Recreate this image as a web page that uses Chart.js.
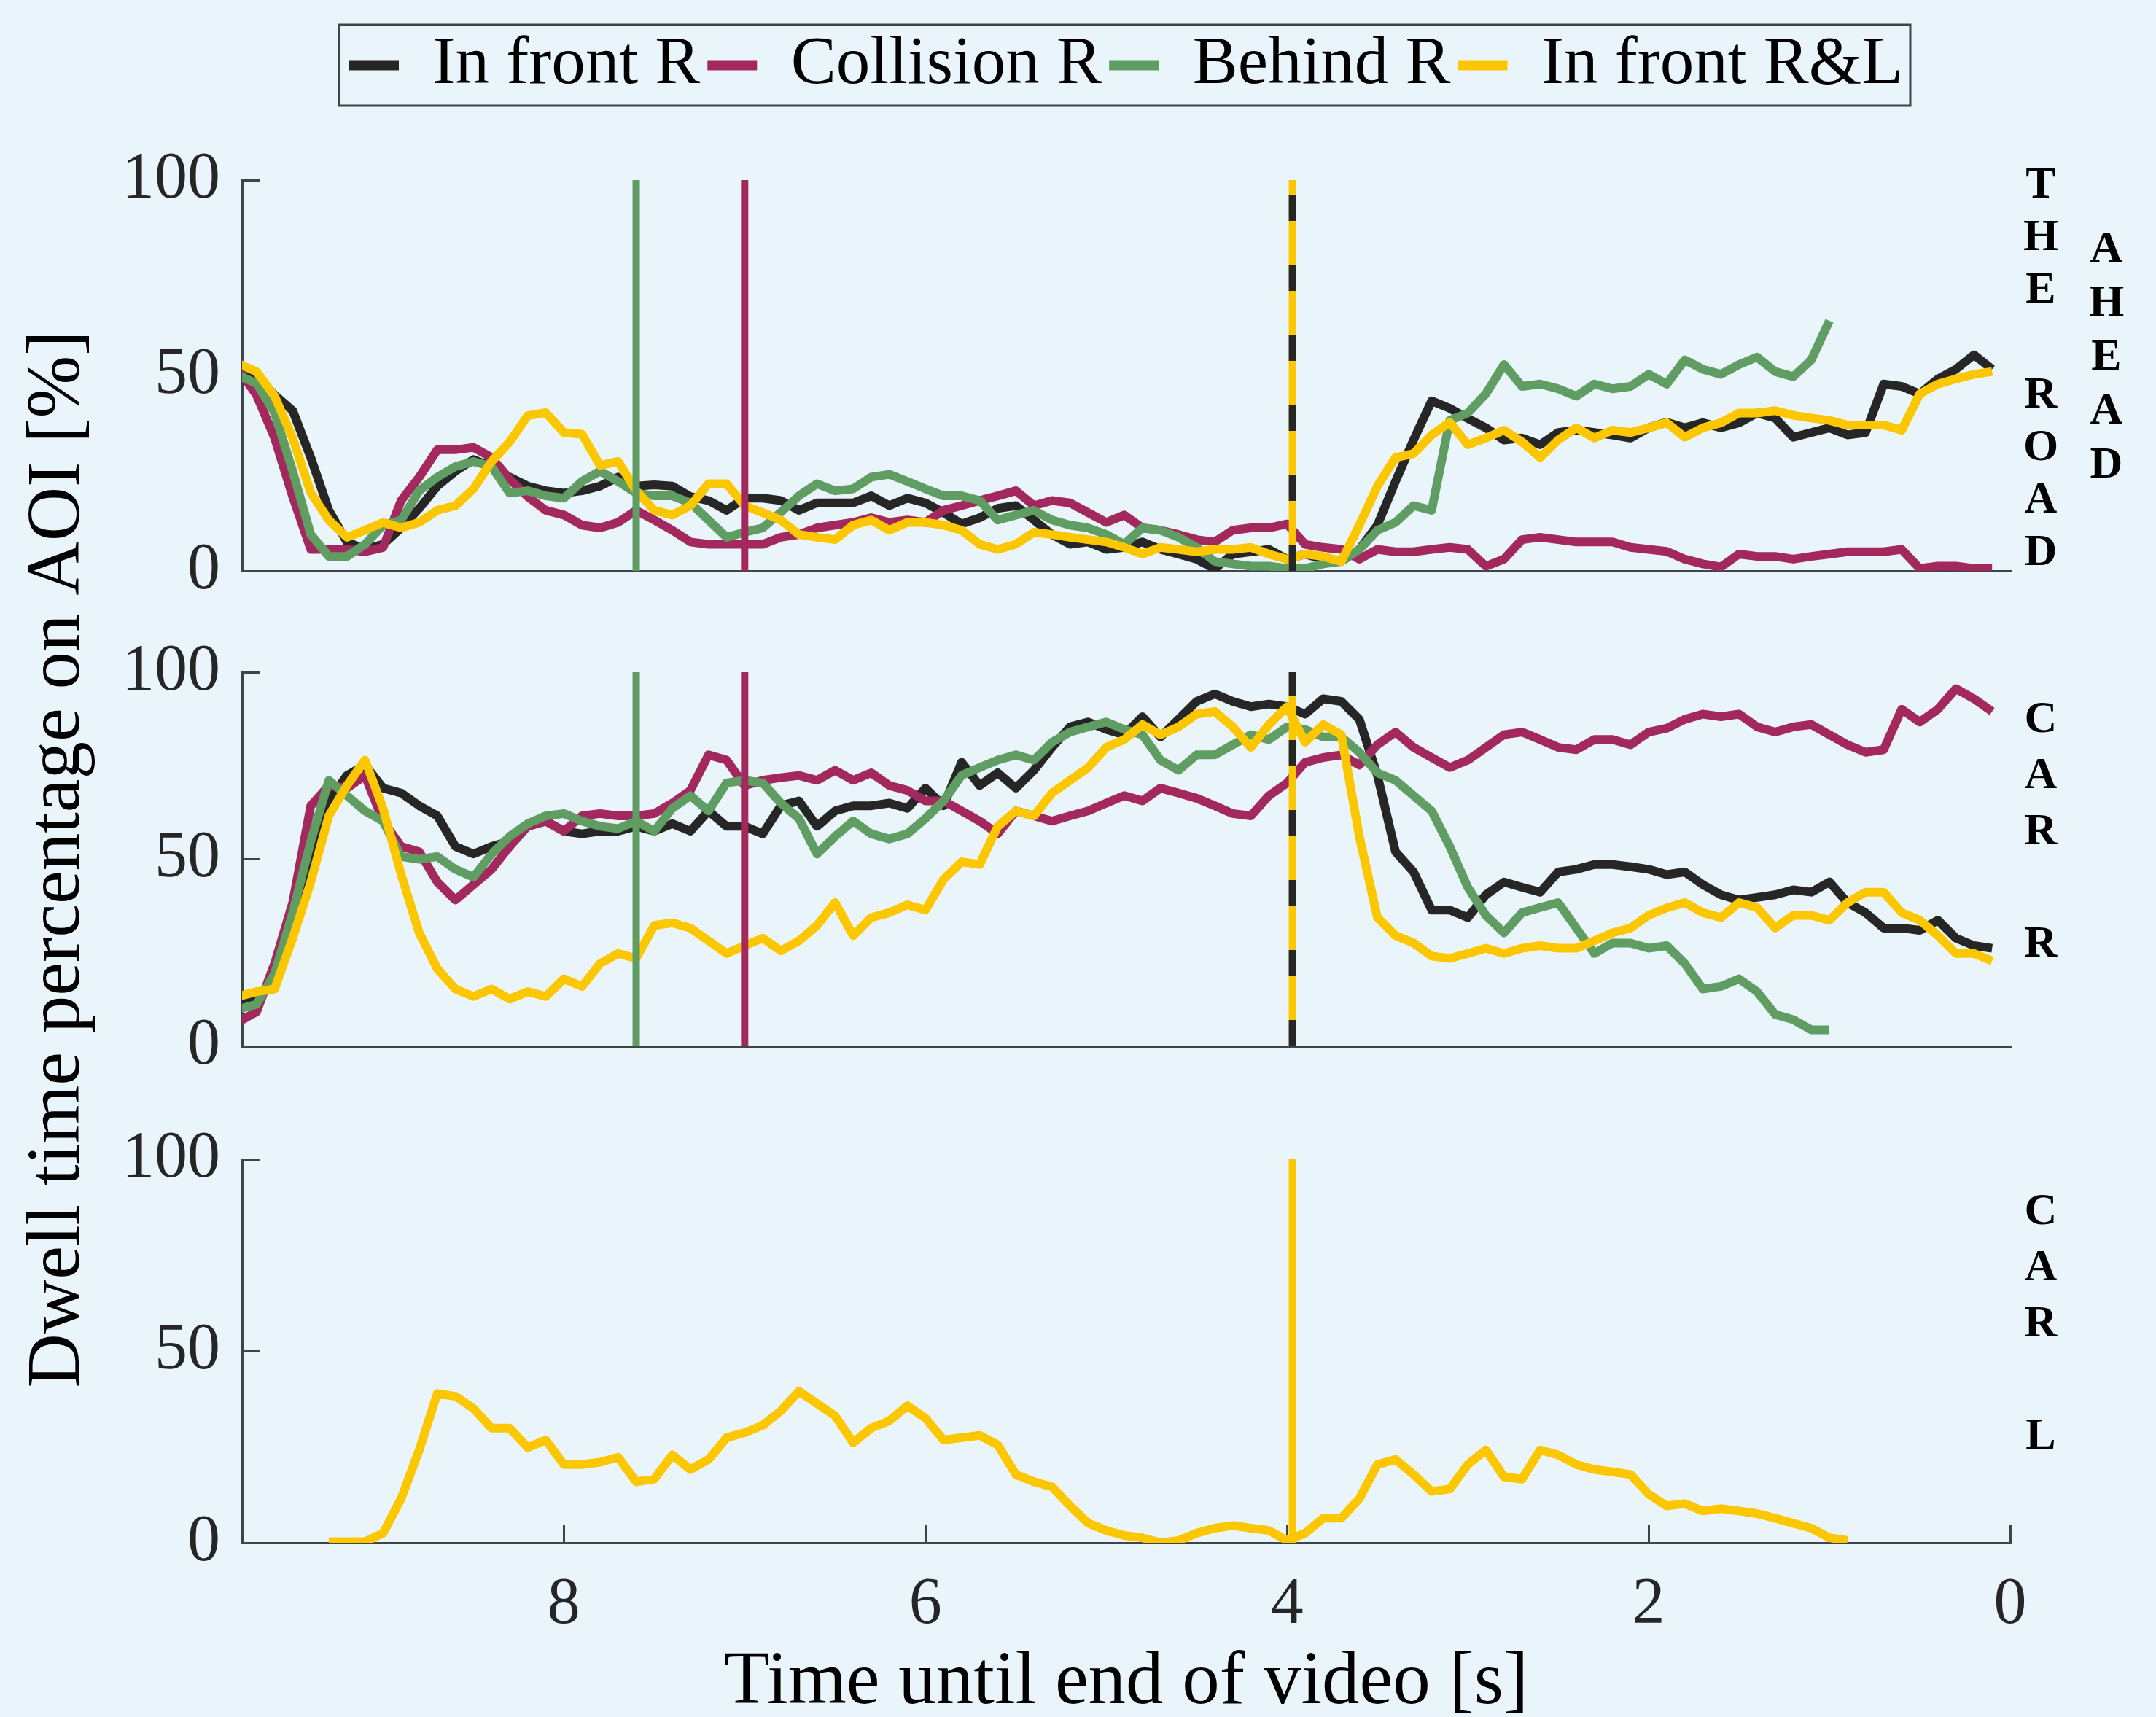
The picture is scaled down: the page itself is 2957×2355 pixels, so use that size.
<!DOCTYPE html>
<html>
<head>
<meta charset="utf-8">
<title>Dwell time percentage on AOI</title>
<script src="https://cdn.jsdelivr.net/npm/chart.js@4.4.1/dist/chart.umd.min.js"></script>
<style>
  html, body { margin: 0; padding: 0; background: #eaf4fb; }
  #wrap { position: relative; width: 2957px; height: 2355px; }
  canvas { position: absolute; left: 0; top: 0; }
</style>
</head>
<body>
<div id="wrap">
  <canvas id="road" width="2957" height="2355"></canvas>
  <canvas id="carR" width="2957" height="2355"></canvas>
  <canvas id="carL" width="2957" height="2355"></canvas>
</div>
<script>
// time until end of video [s], one sample every 0.1 s
var time = [
  9.8, 9.7, 9.6, 9.5, 9.4, 9.3, 9.2, 9.1, 9.0, 8.9,
  8.8, 8.7, 8.6, 8.5, 8.4, 8.3, 8.2, 8.1, 8.0, 7.9,
  7.8, 7.7, 7.6, 7.5, 7.4, 7.3, 7.2, 7.1, 7.0, 6.9,
  6.8, 6.7, 6.6, 6.5, 6.4, 6.3, 6.2, 6.1, 6.0, 5.9,
  5.8, 5.7, 5.6, 5.5, 5.4, 5.3, 5.2, 5.1, 5.0, 4.9,
  4.8, 4.7, 4.6, 4.5, 4.4, 4.3, 4.2, 4.1, 4.0, 3.9,
  3.8, 3.7, 3.6, 3.5, 3.4, 3.3, 3.2, 3.1, 3.0, 2.9,
  2.8, 2.7, 2.6, 2.5, 2.4, 2.3, 2.2, 2.1, 2.0, 1.9,
  1.8, 1.7, 1.6, 1.5, 1.4, 1.3, 1.2, 1.1, 1.0, 0.9,
  0.8, 0.7, 0.6, 0.5, 0.4, 0.3, 0.2, 0.1
];

var seriesNames = ["In front R", "Collision R", "Behind R", "In front R&L"];
// moment each scenario's car shows up (vertical lines)
var onsetTime = [3.97, 7.0, 7.6, 3.97];
var panelLabels = [["THE ROAD", "AHEAD"], ["CAR R"], ["CAR L"]];
var xTicks = [8, 6, 4, 2, 0];
var yTicks = [0, 50, 100];

// AOI: the road ahead
var roadFrontR = [
  52, 50, 45, 41, 29, 15.5, 7.4, 5.5, 6.8, 11,
  16, 21.7, 25.5, 28.5, 26.7, 24, 21.7, 20.5, 19.9, 20.5,
  21.7, 24, 21.7, 22, 21.7, 19, 18, 15.5, 18.6, 18.6,
  18, 15.5, 17.4, 17.4, 17.4, 19.2, 16.7, 18.6, 17.4, 14.9,
  12, 13.6, 16, 16.7, 13, 9.3, 6.8, 7.4, 5.5, 6,
  7.4, 5.5, 4.3, 3, 0.5, 4.3, 4.9, 5.5, 3, 4.3,
  3, 2.4, 5.5, 11.7, 22.9, 33.5, 43.5, 41.6, 39, 36.6,
  33.5, 34, 32.3, 35.4, 36, 35.4, 34.8, 34, 36.6, 38,
  36.6, 37.9, 36.6, 37.9, 40.4, 39.1, 34.2, 35.4, 36.6, 34.8,
  35.4, 47.8, 47.2, 45.3, 49.1, 51.6, 55.3, 51.6
];
var roadCollisionR = [
  51.5, 45, 34, 19, 5.5, 5.5, 5.5, 4.9, 6, 18,
  24, 31, 31, 31.6, 29, 23.5, 19, 15.5, 14.3, 11.7,
  11, 12.4, 15.5, 13, 10.4, 7.4, 6.8, 6.8, 6.8, 6.8,
  8.6, 9.3, 11, 11.7, 12.4, 13.6, 12.4, 13, 12.4, 15.5,
  16.7, 18, 19.2, 20.5, 16.7, 18, 17.4, 14.9, 12.4, 14.3,
  11, 10.4, 9.3, 8, 7.4, 10.4, 11, 11, 12, 6.8,
  6, 5.5, 3, 5.5, 4.9, 4.9, 5.5, 6, 5.5, 1.2,
  3, 8, 8.6, 8, 7.4, 7.4, 7.4, 6, 5.5, 5,
  3, 1.8, 1, 4.3, 3.7, 3.7, 3, 3.7, 4.3, 4.9,
  4.9, 4.9, 5.5, 0.6, 1.2, 1.2, 0.6, 0.6
];
var roadBehindR = [
  50, 48, 40.4, 25.5, 9.3, 3.7, 3.7, 6.8, 11.7, 13,
  20.5, 24, 26.7, 28, 26.7, 19.9, 20.5, 19.2, 18.6, 22.9,
  25.5, 22.9, 19.9, 19.2, 19.2, 17.4, 13, 8.6, 9.9, 11,
  15, 19.2, 22.3, 20.5, 21, 24, 24.7, 22.9, 21, 19.2,
  19.2, 18, 13, 14.3, 15.5, 13, 11.7, 11, 9.3, 6.8,
  11, 10.4, 8.6, 6, 2.4, 1.8, 1.2, 1.2, 0.6, 0.6,
  1.8, 2.4, 5.5, 10.4, 12.4, 16.7, 15.5, 38.5, 40.4, 45.3,
  52.8, 47.2, 47.8, 46.6, 44.7, 47.8, 46.6, 47.2, 50.3, 47.8,
  54, 51.6, 50.3, 52.8, 54.7, 51, 49.7, 54, 64, null,
  null, null, null, null, null, null, null, null
];
var roadFrontRL = [
  53, 51, 44.7, 34, 20, 13, 8.6, 10.4, 12.4, 11,
  12.4, 15.5, 16.7, 21, 28, 33, 39.7, 40.5, 35.4, 35,
  27, 28, 20.5, 15.5, 14.3, 16.7, 22.3, 22.3, 16.7, 14.9,
  13, 9.3, 8.6, 8, 11.7, 13, 10.4, 12.4, 12.4, 11.7,
  10.4, 6.8, 5.5, 6.8, 9.9, 9.3, 8.6, 8, 7.4, 6,
  4.3, 6, 5.5, 4.9, 5.5, 5.5, 6, 4.3, 3, 4.3,
  3.7, 2.4, 11.7, 21.7, 29, 30, 34.8, 38, 32.3, 34,
  36, 33, 29, 33.5, 36.6, 34, 36, 35.4, 36.6, 37.9,
  34.2, 36.6, 37.9, 40.4, 40.4, 41, 39.8, 39.1, 38.5, 37.3,
  37.3, 37.3, 36, 45.3, 47.8, 49.1, 50.3, 51
];

// AOI: car on the right
var carRFrontR = [
  11.2, 12.6, 17.3, 32.3, 50.7, 65.6, 72.4, 75.2, 69, 67.7,
  64.3, 61.6, 53.4, 51.4, 53.4, 54.8, 58.8, 60.2, 57.5, 56.8,
  57.5, 57.5, 58.8, 57.5, 59.5, 57.5, 62.9, 58.8, 58.8, 56.8,
  64.3, 65.6, 58.8, 62.9, 64.3, 64.3, 65, 63.6, 69, 64.3,
  75.9, 69.7, 73.1, 69, 73.8, 79.9, 85.4, 86.7, 84.7, 83.3,
  88.1, 82.7, 87.4, 92.2, 94.2, 92.2, 90.8, 91.5, 90.8, 88.8,
  92.9, 92.2, 87.4, 72.4, 52, 46.6, 36.4, 36.4, 34.4, 40.5,
  43.9, 42.5, 41.2, 46.6, 47.3, 48.6, 48.6, 48, 47.3, 45.9,
  46.6, 43.2, 40.5, 39.1, 39.8, 40.5, 41.8, 41.2, 43.9, 38.4,
  35.7, 31.6, 31.6, 31, 33.7, 28.9, 26.9, 26.2
];
var carRCollisionR = [
  6.5, 9.2, 22.1, 38.4, 64.3, 69.7, 69, 72.4, 60.2, 53.4,
  52, 43.9, 39.1, 43.2, 47.3, 53.4, 58.8, 60.2, 57.5, 61.6,
  62.2, 61.6, 61.6, 62.2, 65, 68.4, 77.9, 76.5, 69.7, 71.1,
  71.8, 72.4, 71.1, 73.8, 71.1, 73.1, 69.7, 68.4, 65.6, 65.6,
  62.9, 60.2, 56.8, 62.9, 61.6, 60.2, 61.6, 62.9, 65, 67,
  65.6, 69, 67.7, 66.3, 64.3, 62.2, 61.6, 67, 70.4, 75.9,
  77.2, 77.9, 75.2, 80.6, 84, 79.9, 77.2, 74.5, 76.5, 79.9,
  83.3, 84, 82, 79.9, 79.3, 82, 82, 80.6, 84, 85,
  87.4, 88.8, 88.1, 88.8, 85.4, 84, 85.4, 86, 83.3, 80.6,
  78.6, 79.3, 90.1, 86.7, 90.1, 95.6, 92.9, 89.5
];
var carRBehindR = [
  9.9, 11.2, 19.4, 35.7, 54.8, 71.1, 67, 62.9, 60.2, 50.7,
  50, 50.7, 47.3, 45.2, 51.4, 56.1, 59.5, 61.6, 62.2, 60.2,
  58.8, 58.2, 60.2, 57.5, 63.6, 67, 62.9, 70.4, 71.1, 70.4,
  65, 60.9, 51.4, 56.1, 60.2, 56.8, 55.4, 56.8, 60.9, 65.6,
  72.4, 74.5, 76.5, 77.9, 76.5, 81.3, 84, 85.4, 86.7, 84.7,
  83.3, 76.5, 73.8, 77.9, 77.9, 80.6, 83.3, 82, 85.4, 84.7,
  82.7, 82.7, 78.6, 73.1, 71.1, 67, 62.9, 53.4, 42.5, 35,
  30.3, 35.7, 37.1, 38.4, 31.6, 24.8, 27.6, 27.6, 26.2, 26.9,
  22.1, 15.3, 16, 18, 14.6, 8.5, 7.1, 4.4, 4.4, null,
  null, null, null, null, null, null, null, null
];
var carRFrontRL = [
  13.3, 14.6, 15.3, 28.9, 43.9, 61.6, 69.7, 76.5, 63.6, 45.9,
  30.3, 20.7, 15.3, 13.3, 15.3, 12.6, 14.6, 13.3, 18, 16,
  22.1, 24.8, 23.5, 32.3, 33, 31.6, 28.2, 24.8, 26.9, 28.9,
  25.5, 28.2, 32.3, 38.4, 29.6, 34.4, 35.7, 37.8, 36.4, 44.6,
  49.3, 48.6, 58.8, 62.9, 61.6, 67.7, 71.1, 74.5, 79.9, 82,
  86, 83.3, 85.4, 88.8, 89.5, 85.4, 79.9, 86, 90.8, 81.3,
  86, 83.3, 56.1, 34.4, 29.6, 27.6, 24.1, 23.5, 24.8, 26.2,
  24.8, 26.2, 26.9, 26.2, 26.2, 28.2, 30.3, 31.6, 35, 37,
  38.4, 35.7, 34.4, 38.4, 37.1, 31.6, 35, 35, 33.7, 38.4,
  41.2, 41.2, 35.7, 33.7, 29.6, 24.8, 24.8, 22.8
];

// AOI: car on the left (only the R&L scenario has one)
var carLFrontRL = [
  null, null, null, null, null, 0.3, 0.3, 0.3, 2.5, 11.5,
  24.2, 38.9, 38.2, 35, 29.9, 29.9, 24.8, 26.8, 20.4, 20.4,
  21, 22.3, 15.9, 16.6, 22.9, 19.1, 21.7, 27.4, 28.7, 30.6,
  34.4, 39.5, 36.3, 33.1, 26.1, 29.9, 31.8, 35.7, 32.5, 26.8,
  27.4, 28, 25.5, 17.8, 15.9, 14.6, 9.6, 5.1, 3.2, 1.9,
  1.3, 0, 0.6, 2.5, 3.8, 4.5, 3.8, 3.2, 0.6, 2.5,
  6.4, 6.4, 11.5, 20.4, 21.7, 17.8, 13.4, 14, 20.4, 24.2,
  17.2, 16.6, 24.2, 22.9, 20.4, 19.1, 18.5, 17.8, 12.7, 9.6,
  10.2, 8.3, 8.9, 8.3, 7.6, 6.4, 5.1, 3.8, 1.3, 0.6,
  null, null, null, null, null, null, null, null
];

var colors = ["#262626", "#a2285e", "#5f9d62", "#fdc700"];
var axisColor = "#3d444a";

Chart.defaults.font.family = '"Liberation Serif", "Times New Roman", serif';
Chart.defaults.color = "#1a1a1a";
Chart.defaults.animation = false;

function lineSet(i, values) {
  return {
    label: seriesNames[i],
    data: values,
    borderColor: colors[i],
    backgroundColor: colors[i],
    borderWidth: 12,
    borderJoinStyle: 'round',
    pointRadius: 0,
    tension: 0,
    order: 4 - i
  };
}

function onsetLine(i, dash) {
  return {
    label: '',
    data: [{x: onsetTime[i], y: 0}, {x: onsetTime[i], y: 100}],
    borderColor: colors[i],
    borderWidth: 10,
    pointRadius: 0,
    borderDash: dash || [],
    order: dash ? -1 : 0
  };
}

function xAxis(bottom) {
  return {
    type: 'linear', min: 0, max: 9.78, reverse: true,
    afterBuildTicks: function (s) { s.ticks = xTicks.map(function (v) { return {value: v}; }); },
    afterFit: function (s) { s.height = bottom ? 239 : 0; },
    grid: { display: bottom, drawOnChartArea: false, drawTicks: true, tickLength: -24, color: axisColor, lineWidth: 3 },
    border: { display: true, color: axisColor, width: 3 },
    ticks: { display: bottom, padding: 56, maxRotation: 0, font: { size: 90 }, color: '#262626' },
    title: { display: bottom, text: 'Time until end of video [s]', color: '#000',
             font: { size: 103, lineHeight: 0.9 }, padding: 0 }
  };
}

function yAxis(withTitle) {
  return {
    min: 0, max: 100,
    afterBuildTicks: function (s) { s.ticks = yTicks.map(function (v) { return {value: v}; }); },
    afterFit: function (s) { s.width = 332; },
    grid: { display: true, drawOnChartArea: false, drawTicks: true, tickLength: -24, color: axisColor, lineWidth: 3 },
    border: { display: true, color: axisColor, width: 3 },
    ticks: { padding: 54, font: { size: 90 }, color: '#262626' },
    title: { display: withTitle, text: 'Dwell time percentage on AOI [%]', color: '#000',
             font: { size: 103 }, padding: { top: 19, bottom: 0 } }
  };
}

// stacked letters on the right of each panel
var sideLabels = {
  id: 'sideLabels',
  afterDraw: function (chart, args, opts) {
    var ctx = chart.ctx, area = chart.chartArea;
    ctx.save();
    ctx.font = 'bold 62px "Liberation Serif"';
    ctx.fillStyle = '#000';
    ctx.textAlign = 'center';
    ctx.textBaseline = 'middle';
    opts.columns.forEach(function (col) {
      col.text.split('').forEach(function (ch, k) {
        ctx.fillText(ch, area.right + col.dx, area.top + col.dy + k * col.step);
      });
    });
    ctx.restore();
  }
};

// thin frame around the legend entries
var legendFrame = {
  id: 'legendFrame',
  afterDraw: function (chart) {
    var boxes = chart.legend && chart.legend.legendHitBoxes;
    if (!boxes || !boxes.length) return;
    var left = Math.min.apply(null, boxes.map(function (b) { return b.left; })) - 14;
    var right = Math.max.apply(null, boxes.map(function (b) { return b.left + b.width; })) + 10;
    var top = boxes[0].top - 9;
    var bottom = boxes[0].top + boxes[0].height + 9;
    var ctx = chart.ctx;
    ctx.save();
    ctx.strokeStyle = axisColor;
    ctx.lineWidth = 3;
    ctx.strokeRect(left, top, right - left, bottom - top);
    ctx.restore();
  }
};

var road = new Chart(document.getElementById('road'), {
  type: 'line',
  data: {
    labels: time,
    datasets: [
      lineSet(0, roadFrontR),
      lineSet(1, roadCollisionR),
      lineSet(2, roadBehindR),
      lineSet(3, roadFrontRL),
      onsetLine(3),
      onsetLine(2),
      onsetLine(1),
      onsetLine(0, [36, 60])
    ]
  },
  options: {
    responsive: false,
    devicePixelRatio: 1,
    layout: { padding: { top: 33, right: 200, bottom: 1572, left: 0 } },
    scales: {
      x: xAxis(false),
      y: yAxis(false),
      // empty band between the legend and the first panel
      gap: { type: 'linear', position: 'top', display: true,
             ticks: { display: false }, grid: { display: false }, border: { display: false },
             afterFit: function (s) { s.height = 101; } }
    },
    plugins: {
      tooltip: { enabled: false },
      legend: {
        display: true, position: 'top', fullSize: false,
        labels: {
          font: { size: 93 }, color: '#000',
          boxWidth: 68, boxHeight: 14, padding: 10,
          generateLabels: function (chart) {
            return Chart.defaults.plugins.legend.labels.generateLabels(chart)
              .filter(function (item) { return item.datasetIndex < 4; })
              .map(function (item) {
                item.lineWidth = 0;
                item.lineDash = [];
                item.fillStyle = item.strokeStyle;
                return item;
              });
          },
          sort: function (a, b) { return a.datasetIndex - b.datasetIndex; }
        }
      },
      sideLabels: { columns: [
        { text: panelLabels[0][0], dx: 42, dy: 8, step: 72 },
        { text: panelLabels[0][1], dx: 132, dy: 96, step: 74 }
      ] }
    }
  },
  plugins: [sideLabels, legendFrame]
});

var carR = new Chart(document.getElementById('carR'), {
  type: 'line',
  data: {
    labels: time,
    datasets: [
      lineSet(0, carRFrontR),
      lineSet(1, carRCollisionR),
      lineSet(2, carRBehindR),
      lineSet(3, carRFrontRL),
      onsetLine(3),
      onsetLine(2),
      onsetLine(1),
      onsetLine(0, [36, 60])
    ]
  },
  options: {
    responsive: false,
    devicePixelRatio: 1,
    layout: { padding: { top: 922, right: 200, bottom: 920, left: 0 } },
    scales: { x: xAxis(false), y: yAxis(true) },
    plugins: {
      tooltip: { enabled: false },
      legend: { display: false },
      sideLabels: { columns: [ { text: panelLabels[1][0], dx: 42, dy: 66, step: 77 } ] }
    }
  },
  plugins: [sideLabels]
});

var carL = new Chart(document.getElementById('carL'), {
  type: 'line',
  data: {
    labels: time,
    datasets: [
      lineSet(3, carLFrontRL),
      onsetLine(3)
    ]
  },
  options: {
    responsive: false,
    devicePixelRatio: 1,
    layout: { padding: { top: 1590, right: 200, bottom: 0, left: 0 } },
    scales: { x: xAxis(true), y: yAxis(false) },
    plugins: {
      tooltip: { enabled: false },
      legend: { display: false },
      sideLabels: { columns: [ { text: panelLabels[2][0], dx: 42, dy: 73, step: 77 } ] }
    }
  },
  plugins: [sideLabels]
});
</script>
</body>
</html>
